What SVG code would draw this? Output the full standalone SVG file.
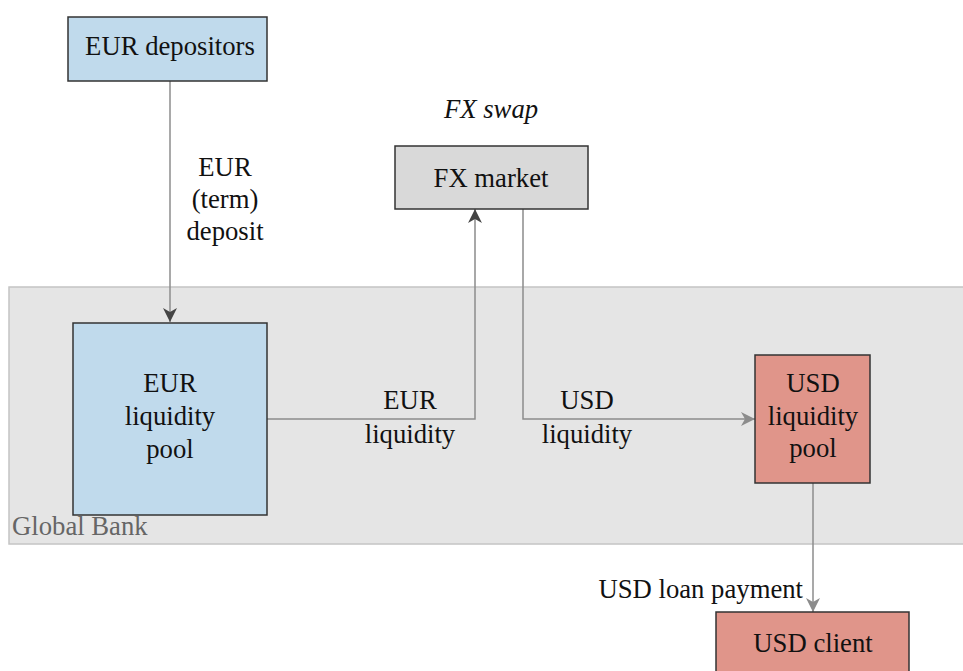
<svg xmlns="http://www.w3.org/2000/svg" width="963" height="671" viewBox="0 0 963 671" font-family="'Liberation Serif', 'Times New Roman', Times, serif">
<defs>
<marker id="arrDark" viewBox="0 0 14 14" refX="14" refY="7" markerWidth="14" markerHeight="14" markerUnits="userSpaceOnUse" orient="auto">
<path d="M0,0 L14,7 L0,14 L4,7 Z" fill="#444444"/>
</marker>
<marker id="arrGray" viewBox="0 0 14 14" refX="14" refY="7" markerWidth="14" markerHeight="14" markerUnits="userSpaceOnUse" orient="auto">
<path d="M0,0 L14,7 L0,14 L4,7 Z" fill="#8c8c8c"/>
</marker>
</defs>
<style>
text { font-family: 'Liberation Serif', 'Times New Roman', Times, serif; font-size: 26.7px; fill: #111111; text-anchor: middle; }
.box { stroke: #333333; stroke-width: 1.5; }
.blue { fill: #c0daec; }
.gray { fill: #d9d9d9; }
.red { fill: #e0958a; }
.conn { fill: none; stroke: #8c8c8c; stroke-width: 1.5; }
.it { font-style: italic; }
</style>
<rect width="963" height="671" fill="#ffffff"/>
<g id="global-bank">
<rect x="9" y="287" width="960" height="257" fill="#e5e5e5" stroke="#c4c4c4" stroke-width="1.5"/>
<text x="12" y="535" style="text-anchor:start;fill:#666666">Global Bank</text>
</g>
<g id="connectors">
<path class="conn" d="M170,81 V322" marker-end="url(#arrDark)"/>
<path class="conn" d="M267,419 H475 V209" marker-end="url(#arrDark)"/>
<path class="conn" d="M523,209 V419 H755" marker-end="url(#arrGray)"/>
<path class="conn" d="M813,483 V612" marker-end="url(#arrGray)"/>
<text x="225" y="176">EUR</text>
<text x="225" y="208">(term)</text>
<text x="225" y="240">deposit</text>
<text x="410" y="409">EUR</text>
<text x="410" y="443">liquidity</text>
<text x="587" y="409">USD</text>
<text x="587" y="443">liquidity</text>
<text x="803" y="598" style="text-anchor:end">USD loan payment</text>
</g>
<g id="eur-depositors">
<rect class="box blue" x="68" y="17" width="199" height="64"/>
<text x="170" y="55">EUR depositors</text>
</g>
<g id="fx-market">
<text class="it" x="491" y="118">FX swap</text>
<rect class="box gray" x="395" y="146" width="193" height="63"/>
<text x="491" y="187">FX market</text>
</g>
<g id="eur-pool">
<rect class="box blue" x="73" y="323" width="194" height="192"/>
<text x="170" y="392">EUR</text>
<text x="170" y="425">liquidity</text>
<text x="170" y="458">pool</text>
</g>
<g id="usd-pool">
<rect class="box red" x="755" y="355" width="115" height="128"/>
<text x="813" y="392">USD</text>
<text x="813" y="425">liquidity</text>
<text x="813" y="457">pool</text>
</g>
<g id="usd-client">
<rect class="box red" x="716" y="612" width="193" height="70"/>
<text x="813" y="652">USD client</text>
</g>
</svg>
